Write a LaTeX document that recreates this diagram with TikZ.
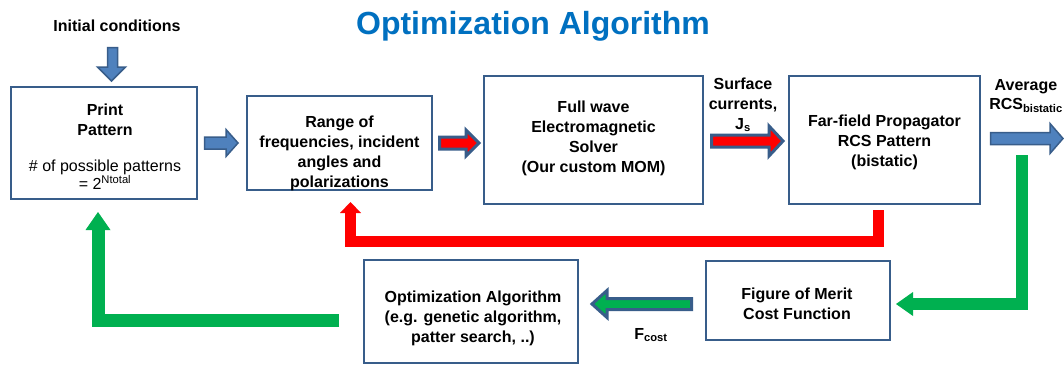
\documentclass[tikz,border=0pt]{standalone}
\usepackage{fontspec}
\setmainfont{Liberation Sans}
\usetikzlibrary{arrows.meta}
\definecolor{boxborder}{RGB}{56,93,138}
\definecolor{arrblue}{RGB}{79,129,189}
\definecolor{fbgreen}{RGB}{0,176,80}
\definecolor{fbred}{RGB}{255,0,0}
\definecolor{titleblue}{RGB}{0,112,192}
\begin{document}
\begin{tikzpicture}[x=1pt,y=-1pt,
  box/.style={draw=boxborder, line width=2.5pt, fill=white, inner sep=0pt},
  lbl/.style={font=\fontsize{16}{20}\selectfont\bfseries, align=center, inner sep=0pt},
  bablue/.style={fill=arrblue, draw=boxborder, line width=1.5pt, line join=miter},
  bared/.style={fill=fbred, draw=boxborder, line width=3pt, line join=miter},
  bagreen/.style={fill=fbgreen, draw=boxborder, line width=3pt, line join=miter},
  fbline/.style={line width=#1, line join=miter, line cap=butt},
]
\useasboundingbox (0,0) rectangle (1064,364);
\fill[white] (0,0) rectangle (1064,364);

% title and top text
\node[font=\fontsize{32}{38}\selectfont\bfseries, text=titleblue, anchor=base, inner sep=0pt] (title) at (533,34) {Optimization Algorithm};
\node[lbl, anchor=base] (init) at (117,31) {Initial conditions};

% boxes
\node[box, minimum width=186pt, minimum height=112pt] (pp) at (104,143) {};
\node[box, minimum width=185pt, minimum height=94pt] (rg) at (339.5,143) {};
\node[box, minimum width=219pt, minimum height=128pt] (fw) at (593.5,140) {};
\node[box, minimum width=191pt, minimum height=128pt] (ff) at (884.5,140) {};
\node[box, minimum width=214pt, minimum height=103pt] (oa) at (471,311.5) {};
\node[box, minimum width=184pt, minimum height=79pt] (fm) at (798,300.5) {};

% box texts
\node[lbl, anchor=north] (ppt) at (105,103.5) {Print\\Pattern\\[16pt]{\mdseries \# of possible patterns}\\[-2pt]{\mdseries = 2\textsuperscript{Ntotal}}};
\node[lbl, anchor=north] (rgt) at (339.5,115.5) {Range of\\frequencies, incident\\angles and\\polarizations};
\node[lbl, anchor=north] (fwt) at (593.5,100.5) {Full wave\\Electromagnetic\\Solver\\(Our custom MOM)};
\node[lbl, anchor=north] (fft) at (884.5,114.5) {Far-field Propagator\\RCS Pattern\\(bistatic)};
\node[lbl, anchor=north] (oat) at (473,290.5) {Optimization Algorithm\\(e.g. genetic algorithm,\\patter search, ..)};
\node[lbl, anchor=north] (fmt) at (797,287.5) {Figure of Merit\\Cost Function};

% arrow labels
\node[lbl, anchor=north] (js) at (743,77.5) {Surface\\currents,\\J\textsubscript{s}};
\node[lbl, anchor=north] (avg) at (1026,79.5) {Average\\[-1pt]RCS\textsubscript{bistatic}};
\node[lbl, anchor=base] (fc) at (651,339) {F\textsubscript{cost}};

% block arrows
\draw[bablue] (107.5,47.5) -- (117.5,47.5) -- (117.5,67) -- (125.5,67) -- (111.5,81) -- (97.5,67) -- (107.5,67) -- cycle;
\draw[bablue] (204.5,137) -- (226,137) -- (226,129.5) -- (238,143) -- (226,156.5) -- (226,149) -- (204.5,149) -- cycle;
\draw[bared] (439.5,137) -- (466,137) -- (466,130) -- (479,143) -- (466,156) -- (466,149) -- (439.5,149) -- cycle;
\draw[bared] (711.5,135) -- (769,135) -- (769,126) -- (783,141) -- (769,156) -- (769,147) -- (711.5,147) -- cycle;
\draw[bablue] (990.5,132.5) -- (1050,132.5) -- (1050,123.5) -- (1063,138.5) -- (1050,153.5) -- (1050,144.5) -- (990.5,144.5) -- cycle;
\draw[bagreen] (691.5,298.5) -- (607,298.5) -- (607,290.5) -- (592,304) -- (607,317.5) -- (607,309.5) -- (691.5,309.5) -- cycle;

% feedback loops
\coordinate (r0) at (878,210);
\coordinate (r1) at (350.5,202);
\draw[fbline=11pt, fbred, -{Triangle[width=21pt,length=11pt,line width=0pt]}] (r0) |- (350.5,241) -- (r1);
\coordinate (g0) at (1021.5,155);
\coordinate (g1) at (896,304);
\draw[fbline=12pt, fbgreen, -{Triangle[width=24pt,length=17pt,line width=0pt]}] (g0) |- (g1);
\coordinate (h0) at (339,320.5);
\coordinate (h1) at (98,212);
\draw[fbline=13pt, fbgreen, -{Triangle[width=25pt,length=18pt,line width=0pt]}] (h0) -| (h1);
\end{tikzpicture}
\end{document}
